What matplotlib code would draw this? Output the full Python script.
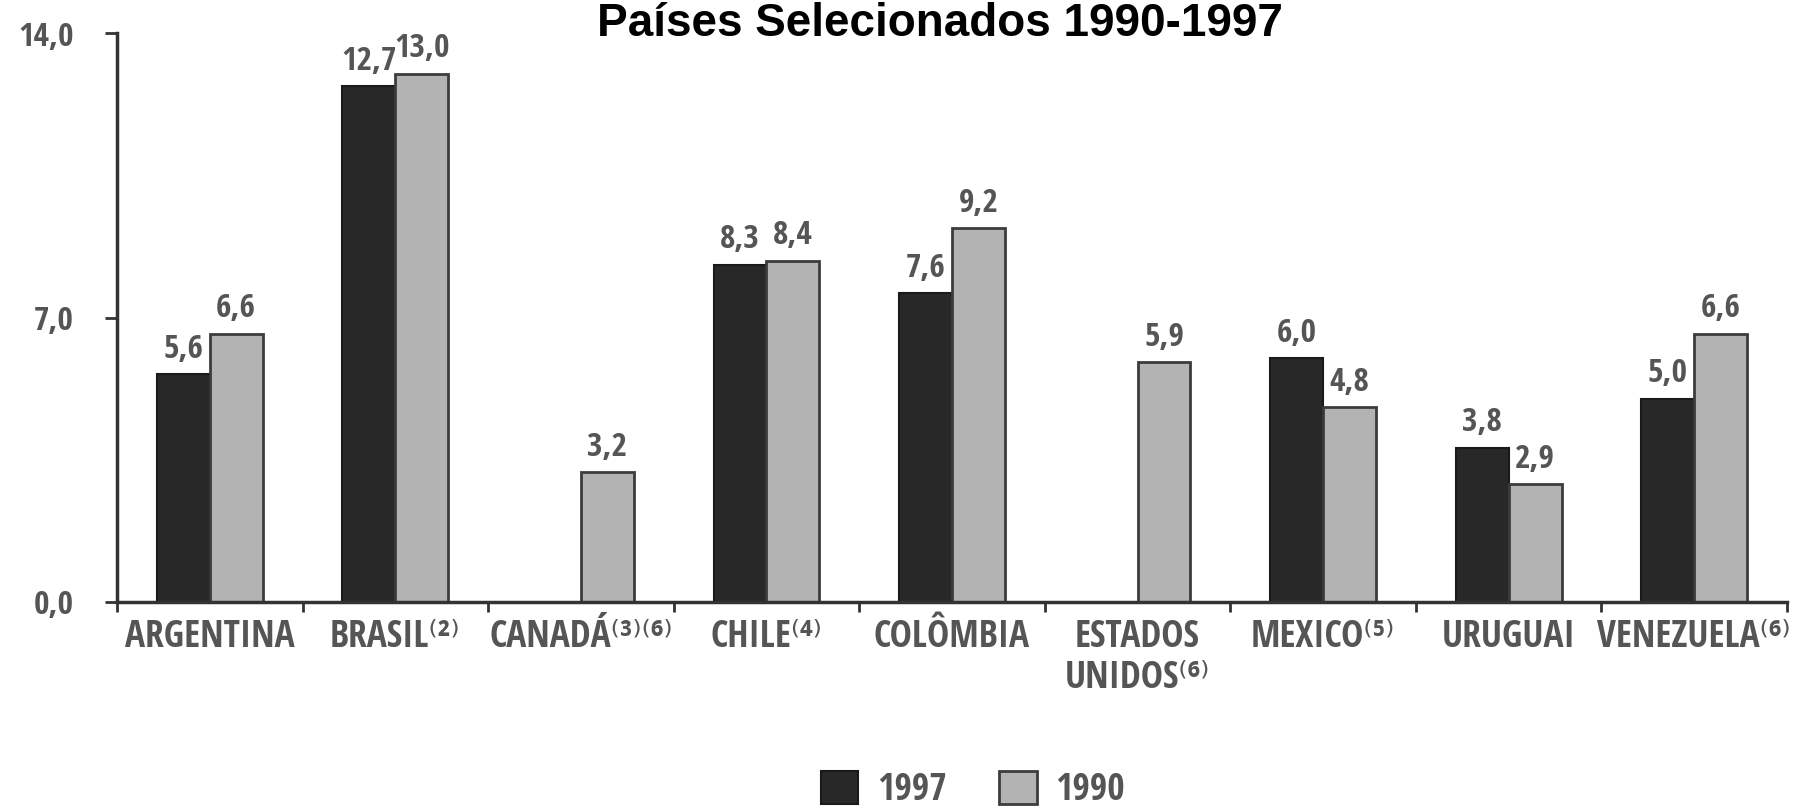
import numpy as np
import matplotlib
matplotlib.use("Agg")
import matplotlib.pyplot as plt
from matplotlib import font_manager
from matplotlib.transforms import blended_transform_factory

# ---- data ----
categories = ["ARGENTINA", "BRASIL⁽²⁾", "CANADÁ⁽³⁾⁽⁶⁾", "CHILE⁽⁴⁾", "COLÔMBIA",
              "ESTADOS\nUNIDOS⁽⁶⁾", "MEXICO⁽⁵⁾", "URUGUAI", "VENEZUELA⁽⁶⁾"]
values_1997 = [5.6, 12.7, np.nan, 8.3, 7.6, np.nan, 6.0, 3.8, 5.0]
values_1990 = [6.6, 13.0, 3.2, 8.4, 9.2, 5.9, 4.8, 2.9, 6.6]
series_names = ["1997", "1990"]
y_ticks = [0.0, 7.0, 14.0]
title = "Países Selecionados 1990-1997"

# ---- fonts ----
available = {f.name for f in font_manager.fontManager.ttflist}
narrow = None
for cand in ["Liberation Sans Narrow", "Open Sans Condensed", "Roboto Condensed", "Lato"]:
    if cand in available:
        narrow = cand
        break
if narrow is None:
    narrow = "DejaVu Sans"
txt_family = [narrow, "DejaVu Sans"]

W, H = 1806, 807
fig = plt.figure(figsize=(W / 100, H / 100), dpi=100)
fig.patch.set_facecolor("white")
ax = fig.add_axes([117 / W, 1 - 602 / H, (1787 - 117) / W, (602 - 33) / H])

x = np.arange(len(categories))
bw = 0.285
dark = "#282828"
light = "#b3b3b3"
gray_txt = "#555555"

b1 = ax.bar(x - bw / 2, values_1997, bw, color=dark, edgecolor="#1a1a1a", linewidth=1.5,
            label=series_names[0])
b2 = ax.bar(x + bw / 2, values_1990, bw, color=light, edgecolor="#3c3c3c", linewidth=2.0,
            label=series_names[1])

label_kw = dict(fontsize=24, color=gray_txt, family=txt_family)
for xi, v in zip(x - bw / 2, values_1997):
    if not np.isnan(v):
        ax.annotate(f"{v:.1f}".replace(".", ","), (xi, v), xytext=(0, 6),
                    textcoords="offset points", ha="center", va="bottom", **label_kw)
for xi, v in zip(x + bw / 2, values_1990):
    if not np.isnan(v):
        ax.annotate(f"{v:.1f}".replace(".", ","), (xi, v), xytext=(0, 6),
                    textcoords="offset points", ha="center", va="bottom", **label_kw)

ax.set_xlim(-0.5, len(categories) - 0.5)
ax.set_ylim(0, 14)
ax.set_yticks(y_ticks)
ax.set_yticklabels([f"{t:.1f}".replace(".", ",") for t in y_ticks], **label_kw)
ax.set_xticks(np.arange(len(categories) + 1) - 0.5)
ax.set_xticklabels([])
ax.tick_params(axis="y", direction="out", length=9, width=2, color="#333333", pad=22)
ax.tick_params(axis="x", direction="out", length=7, width=2, color="#333333")

for s in ["top", "right"]:
    ax.spines[s].set_visible(False)
for s in ["left", "bottom"]:
    ax.spines[s].set_linewidth(2.5)
    ax.spines[s].set_color("#333333")

trans = blended_transform_factory(ax.transData, ax.transAxes)
for xi, lab in zip(x, categories):
    ax.text(xi, -0.028, lab, transform=trans, ha="center", va="top",
            fontsize=27, color=gray_txt, family=txt_family, linespacing=1.1)

fig.text(940 / W, 1 - 2 / H, title, ha="center", va="top",
         fontsize=33, fontweight="bold", color="black", family="Liberation Sans")

leg = fig.legend(handles=[b1, b2], labels=series_names, loc="center",
                 bbox_to_anchor=(973 / W, 1 - 790 / H), ncol=2, frameon=False,
                 prop={"family": txt_family, "size": 27},
                 handlelength=1.0, handleheight=1.0, handletextpad=0.5,
                 columnspacing=1.4, borderaxespad=0)
for t in leg.get_texts():
    t.set_color(gray_txt)

fig.savefig("out.png", dpi=100, facecolor="white")
